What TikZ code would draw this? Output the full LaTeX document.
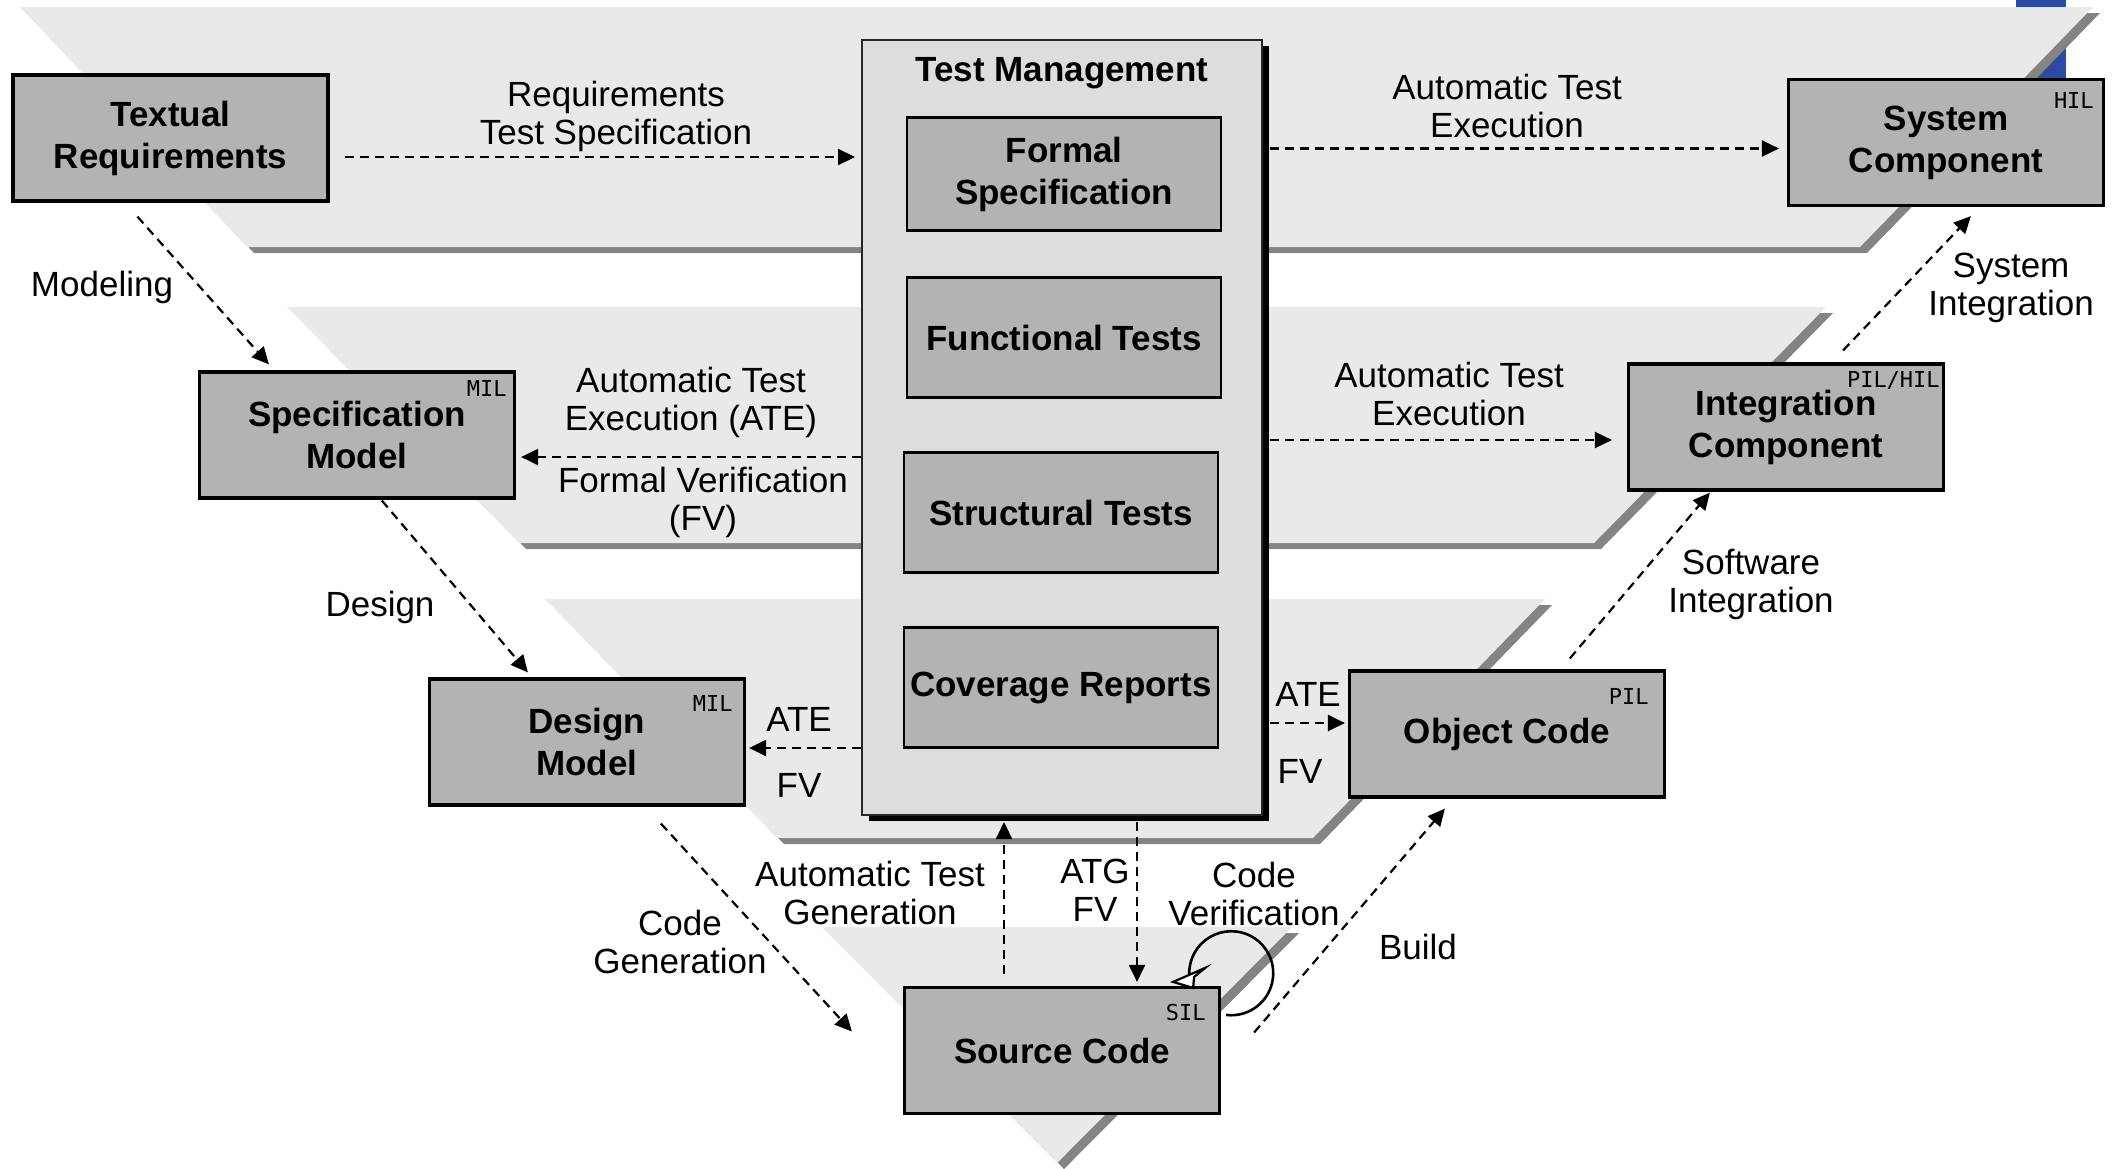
\documentclass[tikz,border=0pt]{standalone}
\usepackage{fontspec}
\setmainfont{Liberation Sans}
\newfontfamily\tagfont{DejaVu Sans Mono}
\usetikzlibrary{arrows.meta,calc,shadows}
\definecolor{bandfill}{HTML}{E9E9E9}
\definecolor{bandshadow}{HTML}{848484}
\definecolor{boxfill}{HTML}{B3B3B3}
\definecolor{mgmtfill}{HTML}{DDDDDD}
\definecolor{cornerblue}{HTML}{2A4BA3}
% one level of the V: a dark copy shifted down-right, then the light band
\newcommand\vband[1]{\fill[bandshade,shift={(7,6)}] #1; \fill[band] #1;}
\begin{document}
\begin{tikzpicture}[x=0.5pt,y=-0.5pt,
  band/.style={fill=bandfill},
  bandshade/.style={fill=bandshadow},
  boxfont/.style={font=\fontsize{17.5}{21}\selectfont\bfseries},
  stage/.style={boxfont, draw=black, line width=1.6pt, fill=boxfill,
    minimum width=157.5pt, minimum height=63pt, align=center, inner sep=0pt},
  inner/.style={boxfont, draw=black, line width=1.3pt, fill=boxfill,
    minimum width=157pt, align=center, inner sep=0pt},
  mgmt/.style={draw=black!85, line width=1pt, fill=mgmtfill,
    minimum width=200pt, minimum height=387.5pt, inner sep=0pt,
    drop shadow={fill=black, opacity=1, shadow xshift=3.5pt, shadow yshift=-3pt}},
  tag/.style={font=\tagfont\fontsize{11}{13}\selectfont, inner sep=0pt, anchor=north east},
  elabel/.style={font=\fontsize{17.5}{19}\selectfont, align=center, inner sep=0pt},
  conn/.style={line width=1.1pt, dash pattern=on 4.5pt off 3pt,
    -{Triangle[length=8.5pt,width=8pt]}},
  loopline/.style={line width=1.3pt},
  loophead/.style={line width=1.1pt, line join=miter, draw=black, fill=white}
]
\useasboundingbox (0,0) rectangle (2112,1168);

% corner mark behind the top level
\fill[cornerblue] (2016,0) rectangle (2066,80);

% levels of the V
\vband{(20,7) -- (2093,7) -- (1860,247) -- (247,247) -- cycle}
\vband{(287,307) -- (1826,307) -- (1594,543) -- (519,543) -- cycle}
\vband{(545,599) -- (1545,599) -- (1313,838) -- (777,838) -- cycle}
\vband{(822,927) -- (1292,927) -- (1057,1163) -- cycle}

% test management column
\node[mgmt] (tm) at (1062,427.5) {};
\node[boxfont, inner sep=0pt] (tmtitle) at (1062,73) {Test Management};
\node[inner, minimum height=56.5pt] (fs) at (1064,174) {Formal\\Specification};
\node[inner, minimum height=60pt] (ft) at (1064,337.5) {Functional Tests};
\node[inner, minimum height=60pt] (st) at (1061,512.5) {Structural Tests};
\node[inner, minimum height=60pt] (cr) at (1061,687.5) {Coverage Reports};

% development stages
\node[stage] (treq) at (170.5,138) {Textual\\Requirements};
\node[stage] (spec) at (357,435) {Specification\\Model};
\node[stage] (dsgn) at (587,742) {Design\\Model};
\node[stage] (src) at (1062,1050.5) {Source Code};
\node[stage] (obj) at (1507,734) {Object Code};
\node[stage] (integ) at (1786,427) {Integration\\Component};
\node[stage] (sys) at (1946,142.5) {System\\Component};

% test platform tags
\node[tag] (spectag) at ($(spec.north east)+(-9,10)$) {MIL};
\node[tag] (dsgntag) at ($(dsgn.north east)+(-13,18)$) {MIL};
\node[tag] (srctag) at ($(src.north east)+(-15,18)$) {SIL};
\node[tag] (objtag) at ($(obj.north east)+(-17,19)$) {PIL};
\node[tag] (integtag) at ($(integ.north east)+(-5,9)$) {PIL/HIL};
\node[tag] (systag) at ($(sys.north east)+(-11,14)$) {HIL};

% connector end points
\coordinate (c1) at ($(treq.east)+(15,19)$);
\coordinate (c2) at ($(sys.west)+(-8,6)$);
\coordinate (c4) at ($(spec.east)+(5,22)$);
\coordinate (c5) at ($(integ.west)+(-15,13)$);
\coordinate (c7) at ($(dsgn.east)+(3,6)$);
\coordinate (c8) at ($(obj.west)+(-3,-11)$);
\coordinate (c10) at ($(src.north)+(-58,-12)$);
\coordinate (c11) at ($(tm.south)+(75,6)$);

% connectors
\draw[conn] (c1) -- ($(tm.west |- c1)+(-6,0)$);
\draw[conn] ($(tm.east |- c2)+(7,0)$) -- (c2);
\draw[conn] ($(treq.south west)+(126,14)$) -- ($(spec.north west)+(71,-6)$);
\draw[conn] (tm.west |- c4) -- (c4);
\draw[conn] ($(tm.east |- c5)+(7,0)$) -- (c5);
\draw[conn] ($(spec.south west)+(184,1)$) -- ($(dsgn.north west)+(100,-5)$);
\draw[conn] (tm.west |- c7) -- (c7);
\draw[conn] ($(tm.east |- c8)+(7,0)$) -- (c8);
\draw[conn] ($(dsgn.south west)+(233,17)$) -- ($(src.west)+(-51,-19)$);
\draw[conn] (c10) -- ($(tm.south -| c10)+(0,6)$);
\draw[conn] (c11) -- ($(src.north -| c11)+(0,-4)$);
\draw[conn] ($(src.east)+(33,-18)$) -- ($(obj.south west)+(97,10)$);
\draw[conn] ($(obj.north west)+(222,-11)$) -- ($(integ.south west)+(83,1)$);
\draw[conn] ($(integ.north east)+(-102,-12)$) -- ($(sys.south west)+(184,9)$);

% code verification loop on the source code, ending in an open head
\coordinate (lpnotch) at ($(src.north east)+(-27,-9)$);
\draw[loopline] ($(src.north east)+(5,29)$)
  arc[start angle=-97, end angle=182, radius=21pt] -- (lpnotch);
\draw[loophead] ($(src.north east)+(-48,-4)$) -- ($(src.north east)+(-16,-18)$)
  -- (lpnotch) -- ($(src.north east)+(-28,2)$) -- cycle;

% connector labels
\node[elabel] (l1) at (616,116) {Requirements\\Test Specification};
\node[elabel] (l2) at (1507,106) {Automatic Test\\Execution};
\node[elabel] (l3) at (102,287) {Modeling};
\node[elabel] (l4) at (691,402) {Automatic Test\\Execution (ATE)};
\node[elabel] (l5) at (703,502) {Formal Verification\\(FV)};
\node[elabel] (l6) at (1449,394) {Automatic Test\\Execution};
\node[elabel] (l7) at (380,607) {Design};
\node[elabel] (l8) at (799,719) {ATE};
\node[elabel] (l9) at (799,785) {FV};
\node[elabel] (l10) at (1308,694) {ATE};
\node[elabel] (l11) at (1300,771) {FV};
\node[elabel] (l12) at (680,942) {Code\\Generation};
\node[elabel] (l13) at (870,893) {Automatic Test\\Generation};
\node[elabel] (l14) at (1095,890) {ATG\\FV};
\node[elabel] (l15) at (1254,894) {Code\\Verification};
\node[elabel] (l16) at (1418,947) {Build};
\node[elabel] (l17) at (1751,584) {Software\\Integration};
\node[elabel] (l18) at (2011,288) {System\\Integration};
\end{tikzpicture}
\end{document}
